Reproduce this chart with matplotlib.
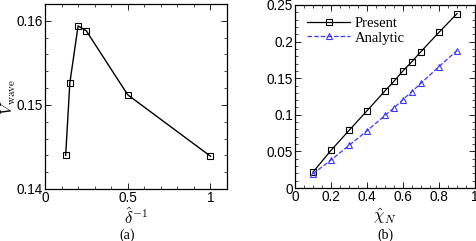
import numpy as np
import matplotlib
matplotlib.use('Agg')
import matplotlib.pyplot as plt
from matplotlib.ticker import MultipleLocator

# panel (a)
inv_delta = [0.125, 0.15, 0.2, 0.25, 0.5, 1.0]
v_wave = [0.1440, 0.1526, 0.1594, 0.1588, 0.1512, 0.1439]

# panel (b)
chi_n = [0.1, 0.2, 0.3, 0.4, 0.5, 0.55, 0.6, 0.65, 0.7, 0.8, 0.9]
present = [0.0218, 0.0514, 0.0786, 0.1055, 0.1327, 0.1459, 0.1600, 0.1727, 0.1864, 0.2127, 0.2382]
analytic = [0.0195, 0.0382, 0.0582, 0.0782, 0.0991, 0.1095, 0.1209, 0.1318, 0.1432, 0.1659, 0.1877]

plt.rcParams['font.family'] = ['Liberation Sans', 'DejaVu Sans']
plt.rcParams['mathtext.fontset'] = 'cm'
serif = 'Liberation Serif'
tfs = 9.8

fig = plt.figure(figsize=(4.76, 2.41), dpi=100)
W, H = 476.0, 241.0
ax1 = fig.add_axes([45/W, 1-189/H, 182/W, 185/H])
ax2 = fig.add_axes([295/W, 1-188/H, 180/W, 183/H])

def style(ax):
    ax.tick_params(which='both', direction='in', top=True, right=True, labelsize=tfs, pad=1.5)
    ax.tick_params(which='major', length=4, width=0.6)
    ax.tick_params(which='minor', length=2, width=0.5)
    for s in ax.spines.values():
        s.set_linewidth(0.9)

# (a) wave speed vs inverse thickness
ax1.plot(inv_delta, v_wave, '-', color='black', lw=1.0, marker='s', ms=4,
         mfc='none', mec='black', mew=0.8)
ax1.set_xlim(0, 1.1)
ax1.set_ylim(0.14, 0.162)
ax1.set_xticks([0, 0.5, 1])
ax1.set_xticklabels(['0', '0.5', '1'])
ax1.set_yticks([0.14, 0.15, 0.16])
ax1.set_yticklabels(['0.14', '0.15', '0.16'])
ax1.xaxis.set_minor_locator(MultipleLocator(0.1))
ax1.yaxis.set_minor_locator(MultipleLocator(0.002))
style(ax1)
ax1.set_xlabel(r'$\hat{\delta}^{-1}$', fontsize=12)
ax1.xaxis.set_label_coords(0.5, -(201 - 189) / 185.0 - 0.03)
ax1.xaxis.label.set_va('top')
ax1.set_ylabel(r'$\hat{V}_{\rm wave}$', fontsize=11.5)
ax1.yaxis.set_label_coords(-27.5/182, 0.5)
fig.text(127/W, 1-235/H, '(a)', ha='center', va='center', fontsize=10, family=serif)

# (b) present vs analytic
ax2.plot(chi_n, present, '-', color='black', lw=0.9, marker='s', ms=4,
         mfc='none', mec='black', mew=0.8, label='Present')
ax2.plot(chi_n, analytic, '--', color='#3a3aff', lw=0.9, marker='^', ms=4.5,
         mfc='none', mec='#3a3aff', mew=0.8, label='Analytic')
ax2.set_xlim(0, 1)
ax2.set_ylim(0, 0.25)
ax2.set_xticks([0, 0.2, 0.4, 0.6, 0.8, 1])
ax2.set_xticklabels(['0', '0.2', '0.4', '0.6', '0.8', '1'])
ax2.set_yticks([0, 0.05, 0.1, 0.15, 0.2, 0.25])
ax2.set_yticklabels(['0', '0.05', '0.1', '0.15', '0.2', '0.25'])
ax2.xaxis.set_minor_locator(MultipleLocator(0.05))
ax2.yaxis.set_minor_locator(MultipleLocator(0.01))
style(ax2)
ax2.set_xlabel(r'$\hat{\chi}_N$', fontsize=12)
ax2.xaxis.set_label_coords(0.5, -(201 - 188) / 183.0 - 0.03)
ax2.xaxis.label.set_va('top')
ax2.legend(loc='upper left', frameon=False, prop={'family': serif, 'size': 10.5},
           handlelength=3.0, handletextpad=0.3, labelspacing=0.1,
           borderaxespad=0.5, borderpad=0.3)
fig.text(385/W, 1-235/H, '(b)', ha='center', va='center', fontsize=10, family=serif)

plt.savefig('out.png', dpi=100)
